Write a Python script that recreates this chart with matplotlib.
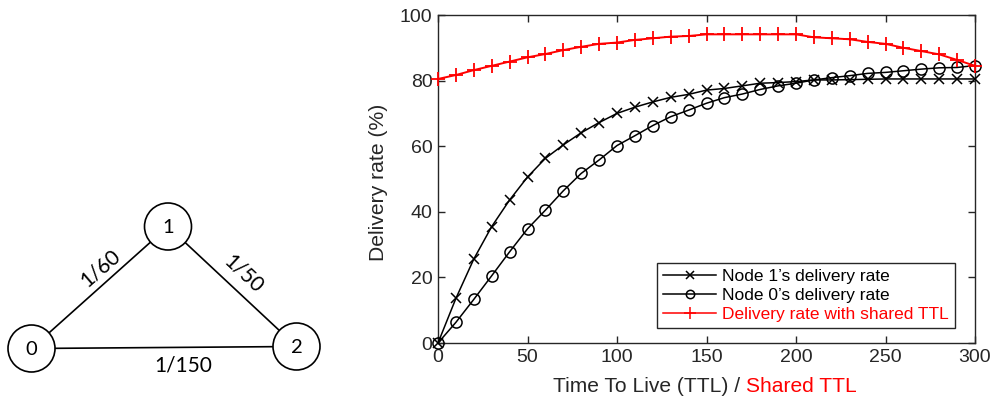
import matplotlib
matplotlib.use("Agg")
import matplotlib.pyplot as plt
from matplotlib.patches import Circle
from matplotlib.lines import Line2D

# ---------------- data ----------------
ttl = [0, 10, 20, 30, 40, 50, 60, 70, 80, 90, 100, 110, 120, 130, 140, 150,
       160, 170, 180, 190, 200, 210, 220, 230, 240, 250, 260, 270, 280, 290, 300]
node1_rate = [0, 13.6, 25.6, 35.5, 43.6, 50.6, 56.3, 60.4, 64.1, 67.2, 70.0,
              71.9, 73.5, 74.9, 75.8, 77.1, 77.6, 78.4, 79.2, 79.4, 79.7,
              80.2, 80.2, 80.3, 80.4, 80.5, 80.5, 80.5, 80.5, 80.5, 80.5]
node0_rate = [0, 6.3, 13.3, 20.5, 27.8, 34.8, 40.5, 46.4, 51.7, 55.8, 60.2,
              63.2, 66.3, 69.0, 71.0, 73.1, 74.8, 75.9, 77.3, 78.4, 79.2,
              80.2, 80.9, 81.5, 82.2, 82.5, 83.0, 83.5, 83.9, 84.0, 84.6]
shared_rate = [80.5, 81.7, 83.2, 84.5, 85.8, 87.1, 88.1, 89.3, 90.3, 91.2, 91.6,
               92.4, 92.9, 93.4, 93.6, 94.1, 94.1, 94.1, 94.1, 94.1, 94.1,
               93.2, 92.9, 92.6, 91.8, 91.2, 90.0, 89.0, 88.0, 86.3, 84.5]
series_labels = ["Node 1\u2019s delivery rate", "Node 0\u2019s delivery rate",
                 "Delivery rate with shared TTL"]
x_ticks = [0, 50, 100, 150, 200, 250, 300]
y_ticks = [0, 20, 40, 60, 80, 100]
xlabel_main = "Time To Live (TTL) / "
xlabel_red = "Shared TTL"
ylabel = "Delivery rate (%)"

node_labels = ["0", "1", "2"]
edges = [(0, 1), (1, 2), (0, 2)]
edge_labels = ["1/60", "1/50", "1/150"]

# ---------------- figure ----------------
W, H = 993, 400
fig = plt.figure(figsize=(W / 100, H / 100), dpi=100)
fig.patch.set_facecolor("white")

gray = (0.15, 0.15, 0.15)
plt.rcParams["font.family"] = ["Liberation Sans", "DejaVu Sans"]

# ----- left graph diagram (pixel coordinate overlay) -----
axd = fig.add_axes([0, 0, 1, 1])
axd.set_xlim(0, W)
axd.set_ylim(H, 0)
axd.axis("off")
node_pos = [(31.5, 348.5), (168.0, 226.5), (296.5, 346.5)]
r = 23.5
for (a, b) in edges:
    axd.plot([node_pos[a][0], node_pos[b][0]], [node_pos[a][1], node_pos[b][1]],
             color="black", lw=1.2, zorder=1)
for (x, y), lab in zip(node_pos, node_labels):
    axd.add_patch(Circle((x, y), r, facecolor="white", edgecolor="black",
                         lw=1.2, zorder=2))
    axd.text(x, y + 1, lab, ha="center", va="center", fontsize=14.5,
             family=["Lato", "DejaVu Sans"], zorder=3)
edge_text_pos = [(100, 268, 41), (243, 274, -43), (183, 365, 0)]
for (x, y, rot), lab in zip(edge_text_pos, edge_labels):
    axd.text(x, y, lab, ha="center", va="center", rotation=rot,
             rotation_mode="anchor", fontsize=15,
             family=["Lato", "DejaVu Sans"])

# ----- main chart -----
L, R, T, B = 438, 975, 15, 343
ax = fig.add_axes([L / W, 1 - B / H, (R - L) / W, (B - T) / H])
ax.set_xlim(0, 300)
ax.set_ylim(0, 100)

ax.plot(ttl, node1_rate, color="black", lw=1.1, marker="x", markersize=7,
        markeredgewidth=1.1, clip_on=False, zorder=3, label=series_labels[0])
ax.plot(ttl, node0_rate, color="black", lw=1.1, marker="o", markersize=8,
        markerfacecolor="none", markeredgewidth=1.1, clip_on=False, zorder=3,
        label=series_labels[1])
ax.plot(ttl, shared_rate, color="red", lw=1.4, marker="+", markersize=10,
        markeredgewidth=1.3, clip_on=False, zorder=4, label=series_labels[2])

ax.set_xticks(x_ticks)
ax.set_yticks(y_ticks)
ax.tick_params(direction="in", top=True, right=True, length=5, width=1,
               colors=gray, labelsize=14, pad=4)
for sp in ax.spines.values():
    sp.set_color(gray)
    sp.set_linewidth(1.0)

fig.text(378 / W, 1 - 182 / H, ylabel, fontsize=15.2, color=gray,
         rotation=90, ha="center", va="center")

t1 = fig.text(553 / W, 1 - 392 / H, xlabel_main, fontsize=15.1, color=gray,
              ha="left", va="baseline")
ax.annotate(xlabel_red, xy=(1, 0), xycoords=t1, ha="left", va="bottom",
            fontsize=15.1, color="red", annotation_clip=False)

handles = [
    Line2D([], [], color="black", lw=1.1, marker="x", markersize=6,
           markeredgewidth=1.1),
    Line2D([], [], color="black", lw=1.1, marker="o", markersize=6,
           markerfacecolor="none", markeredgewidth=1.1),
    Line2D([], [], color="red", lw=1.1, marker="+", markersize=9,
           markeredgewidth=1.1),
]
leg = ax.legend(handles, series_labels, loc="lower right",
                bbox_to_anchor=(0.963, 0.046), fontsize=12.5, frameon=True,
                fancybox=False, framealpha=1, edgecolor=gray,
                handlelength=3.05, handletextpad=0.35, borderpad=0.35,
                labelspacing=0.22, borderaxespad=0)
leg.get_frame().set_linewidth(1.0)
for txt, c in zip(leg.get_texts(), ["black", "black", "red"]):
    txt.set_color(c)

fig.savefig("out.png", dpi=100, facecolor="white")
